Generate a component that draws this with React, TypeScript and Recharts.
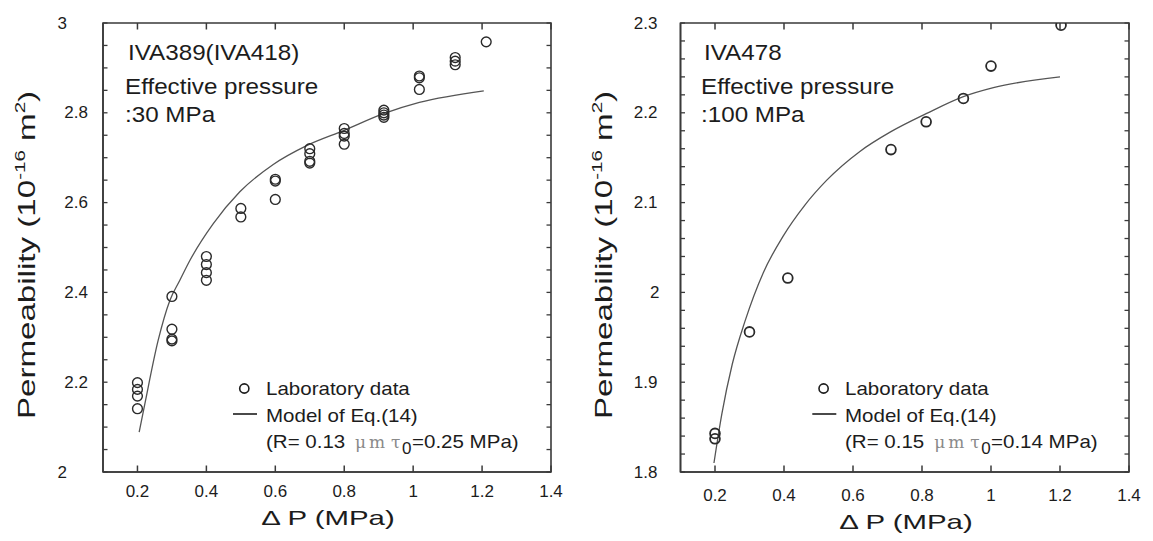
import React from 'react';
import { ComposedChart, Scatter, Line, XAxis, YAxis, ReferenceArea } from 'recharts';

// ---- data ----
const xTicks = [0.2, 0.4, 0.6, 0.8, 1, 1.2, 1.4];
const xTickLabels = ['0.2', '0.4', '0.6', '0.8', '1', '1.2', '1.4'];

const leftYTicks = [2, 2.05, 2.1, 2.15, 2.2, 2.25, 2.3, 2.35, 2.4, 2.45, 2.5, 2.55, 2.6, 2.65, 2.7, 2.75, 2.8, 2.85, 2.9, 2.95, 3];
const leftYMajor = [2, 2.2, 2.4, 2.6, 2.8, 3];
const leftYLabels = ['2', '2.2', '2.4', '2.6', '2.8', '3'];

const rightYTicks = [1.8, 1.82, 1.84, 1.86, 1.88, 1.9, 1.92, 1.94, 1.96, 1.98, 2, 2.02, 2.04, 2.06, 2.08, 2.1, 2.12, 2.14, 2.16, 2.18, 2.2, 2.22, 2.24, 2.26, 2.28, 2.3];
const rightYMajor = [1.8, 1.9, 2, 2.1, 2.2, 2.3];
const rightYLabels = ['1.8', '1.9', '2', '2.1', '2.2', '2.3'];

const leftLabX = [0.2, 0.2, 0.2, 0.2, 0.3, 0.3, 0.3, 0.3, 0.4, 0.4, 0.4, 0.4, 0.5, 0.5, 0.6, 0.6, 0.6, 0.7, 0.7, 0.7, 0.7, 0.8, 0.8, 0.8, 0.8, 0.915, 0.915, 0.915, 0.915, 1.018, 1.018, 1.018, 1.122, 1.122, 1.122, 1.212];
const leftLabY = [2.199, 2.184, 2.169, 2.141, 2.391, 2.318, 2.296, 2.292, 2.48, 2.462, 2.444, 2.427, 2.587, 2.568, 2.652, 2.648, 2.607, 2.72, 2.709, 2.692, 2.688, 2.765, 2.754, 2.748, 2.73, 2.806, 2.8, 2.795, 2.79, 2.882, 2.878, 2.852, 2.923, 2.915, 2.907, 2.958];

const leftModelX = [0.205, 0.221, 0.26, 0.294, 0.323, 0.352, 0.42, 0.497, 0.594, 0.691, 0.8, 0.914, 1.018, 1.205];
const leftModelY = [2.089, 2.15, 2.293, 2.382, 2.427, 2.471, 2.553, 2.624, 2.685, 2.727, 2.761, 2.798, 2.823, 2.849];

const rightLabX = [0.2, 0.2, 0.3, 0.411, 0.71, 0.812, 0.92, 1.0, 1.203];
const rightLabY = [1.843, 1.837, 1.956, 2.016, 2.159, 2.19, 2.216, 2.252, 2.2975];

const rightModelX = [0.197, 0.22, 0.25, 0.287, 0.34, 0.398, 0.46, 0.524, 0.62, 0.71, 0.812, 0.92, 1.007, 1.2];
const rightModelY = [1.81, 1.865, 1.92, 1.968, 2.022, 2.063, 2.097, 2.125, 2.157, 2.179, 2.199, 2.218, 2.228, 2.24];

const zip = (xs: number[], ys: number[]) => xs.map((x, i) => ({ x, y: ys[i] }));

const FONT = "'Liberation Sans', Arial, sans-serif";
const INK = '#1c1c1c';
const AXIS = '#3a3a3a';
const PLOT_H = 449;

const near = (a: number, b: number) => Math.abs(a - b) < 1e-6;

const makeXTick = (labelDy: number) => (props: any) => {
  const { x, y, payload } = props;
  const i = xTicks.findIndex(t => near(t, payload.value));
  return (
    <g>
      <line x1={x} x2={x} y1={y} y2={y - 6.5} stroke={AXIS} strokeWidth={1.5} />
      <line x1={x} x2={x} y1={y - PLOT_H} y2={y - PLOT_H + 6.5} stroke={AXIS} strokeWidth={1.5} />
      <text x={x} y={y + labelDy} textAnchor="middle" dominantBaseline="central" fontSize={17} fontFamily={FONT} fill={INK}>
        {xTickLabels[i]}
      </text>
    </g>
  );
};

const makeYTick = (majors: number[], labels: string[], plotW: number, gap: number, intGap: number) => (props: any) => {
  const { x, y, payload } = props;
  const v = payload.value;
  const i = majors.findIndex(m => near(m, v));
  return (
    <g>
      <line x1={x} x2={x + 4.5} y1={y} y2={y} stroke={AXIS} strokeWidth={1.3} />
      <line x1={x + plotW} x2={x + plotW - 4.5} y1={y} y2={y} stroke={AXIS} strokeWidth={1.3} />
      {i >= 0 && (
        <text x={x - (Number.isInteger(v) ? intGap : gap)} y={y} textAnchor="end" dominantBaseline="central" fontSize={17} fontFamily={FONT} fill={INK}>
          {labels[i]}
        </text>
      )}
    </g>
  );
};

const circleShape = (sw: number) => (props: any) => (
  <circle cx={props.cx} cy={props.cy} r={4.9} fill="none" stroke="#2a2a2a" strokeWidth={sw} />
);

interface PanelProps {
  width: number;
  margin: { top: number; right: number; bottom: number; left: number };
  yDomain: [number, number];
  yTicks: number[];
  yMajor: number[];
  yLabels: string[];
  yGap: number;
  yIntGap: number;
  xLabelDy: number;
  lab: { x: number; y: number }[];
  model: { x: number; y: number }[];
  markerStroke: number;
}

const Panel: React.FC<PanelProps> = p => {
  const plotW = p.width - p.margin.left - p.margin.right - 60;
  return (
    <ComposedChart width={p.width} height={541} margin={p.margin}>
      <XAxis
        xAxisId={0}
        dataKey="x"
        type="number"
        domain={[0.1, 1.4]}
        allowDataOverflow
        ticks={xTicks}
        interval={0}
        height={30}
        tickSize={0}
        tickMargin={0}
        tickLine={false}
        axisLine={{ stroke: AXIS, strokeWidth: 1.6 }}
        tick={makeXTick(p.xLabelDy)}
      />
      <YAxis
        yAxisId={0}
        dataKey="y"
        type="number"
        domain={p.yDomain}
        allowDataOverflow
        ticks={p.yTicks}
        interval={0}
        width={60}
        tickSize={0}
        tickMargin={0}
        tickLine={false}
        axisLine={{ stroke: AXIS, strokeWidth: 1.6 }}
        tick={makeYTick(p.yMajor, p.yLabels, plotW, p.yGap, p.yIntGap)}
      />
      <ReferenceArea x1={0.1} x2={1.4} y1={p.yDomain[0]} y2={p.yDomain[1]} fill="none" stroke={AXIS} strokeWidth={1.6} fillOpacity={0} />
      <Line data={p.model} dataKey="y" type="monotone" stroke="#555" strokeWidth={1.3} dot={false} isAnimationActive={false} />
      <Scatter data={p.lab} dataKey="y" shape={circleShape(p.markerStroke)} isAnimationActive={false} />
    </ComposedChart>
  );
};

const abs = (left: number, top: number): React.CSSProperties => ({ position: 'absolute', left, top, whiteSpace: 'nowrap', lineHeight: 1 });

const Annot: React.FC<{ x: number; lines: string[] }> = ({ x, lines }) => {
  const baselines = [61, 95, 123];
  return (
    <>
      {lines.map((t, i) => (
        <div key={i} style={{ ...abs(i === 0 ? x + 3 : x, baselines[i] - 18.6), fontSize: 22, transform: 'scaleX(1.1)', transformOrigin: 'left center' }}>
          {t}
        </div>
      ))}
    </>
  );
};

const LegendBlock: React.FC<{ dx: number; r: string; tau: string }> = ({ dx, r, tau }) => {
  const tx = 265.7 + dx;
  const fs = 19;
  const top = (b: number) => b - 0.8465 * fs;
  const txt: React.CSSProperties = { fontSize: fs, transform: 'scaleX(1.08)', transformOrigin: 'left center' };
  const greek: React.CSSProperties = { fontSize: 17, color: '#8a8a8a', fontFamily: "'DejaVu Serif', serif" };
  return (
    <>
      <svg style={{ position: 'absolute', left: 0, top: 0 }} width={1153} height={541}>
        <circle cx={244.3 + dx} cy={388.5} r={4.6} fill="none" stroke="#1c1c1c" strokeWidth={1.6} />
        <line x1={233 + dx} x2={257 + dx} y1={414} y2={414} stroke="#1c1c1c" strokeWidth={1.6} />
      </svg>
      <div style={{ ...abs(tx, top(395)), ...txt }}>Laboratory data</div>
      <div style={{ ...abs(tx, top(421.7)), ...txt }}>Model of Eq.(14)</div>
      <div style={{ ...abs(tx, top(448.3)), ...txt }}>{`(R= ${r}`}</div>
      <div style={{ ...abs(355 + dx, top(448.3) + 2), ...greek }}>μ</div>
      <div style={{ ...abs(369 + dx, top(448.3) + 2), ...greek }}>m</div>
      <div style={{ ...abs(391 + dx, top(448.3) + 2), ...greek }}>τ</div>
      <div style={{ ...abs(402 + dx, top(448.3) + 8), fontSize: 17 }}>0</div>
      <div style={{ ...abs(412 + dx, top(448.3)), ...txt }}>{`=${tau} MPa)`}</div>
    </>
  );
};

const YTitle: React.FC<{ cx: number }> = ({ cx }) => (
  <div
    style={{
      ...abs(cx, 255),
      fontSize: 24,
      transform: 'translate(-50%, -50%) rotate(-90deg) scaleX(1.38)',
    }}
  >
    Permeability (10<span style={{ fontSize: '0.62em', verticalAlign: '0.7em' }}>-16</span> m
    <span style={{ fontSize: '0.62em', verticalAlign: '0.7em' }}>2</span>)
  </div>
);

const XTitle: React.FC<{ cx: number; cy: number }> = ({ cx, cy }) => (
  <div style={{ ...abs(cx, cy), fontSize: 21, transform: 'translate(-50%, -50%) scaleX(1.4)' }}>Δ P (MPa)</div>
);

export default function App() {
  return (
    <div style={{ position: 'absolute', left: 0, top: 0, width: 1153, height: 541, background: '#fff', overflow: 'hidden', fontFamily: FONT, color: INK }}>
      <div style={{ position: 'absolute', left: 0, top: 0 }}>
        <Panel
          width={580}
          margin={{ top: 23, right: 29, bottom: 39, left: 43 }}
          yDomain={[2, 3]}
          yTicks={leftYTicks}
          yMajor={leftYMajor}
          yLabels={leftYLabels}
          yGap={15}
          yIntGap={36}
          xLabelDy={19}
          lab={zip(leftLabX, leftLabY)}
          model={zip(leftModelX, leftModelY)}
          markerStroke={1.4}
        />
      </div>
      <div style={{ position: 'absolute', left: 580, top: 0 }}>
        <Panel
          width={573}
          margin={{ top: 23, right: 24, bottom: 39, left: 40.5 }}
          yDomain={[1.8, 2.3]}
          yTicks={rightYTicks}
          yMajor={rightYMajor}
          yLabels={rightYLabels}
          yGap={23}
          yIntGap={21}
          xLabelDy={23}
          lab={zip(rightLabX, rightLabY)}
          model={zip(rightModelX, rightModelY)}
          markerStroke={1.8}
        />
      </div>
      <Annot x={125} lines={['IVA389(IVA418)', 'Effective pressure', ':30 MPa']} />
      <Annot x={701} lines={['IVA478', 'Effective pressure', ':100 MPa']} />
      <LegendBlock dx={0} r="0.13" tau="0.25" />
      <LegendBlock dx={579.3} r="0.15" tau="0.14" />
      <YTitle cx={26} />
      <YTitle cx={603} />
      <XTitle cx={328} cy={517} />
      <XTitle cx={906} cy={521} />
    </div>
  );
}
